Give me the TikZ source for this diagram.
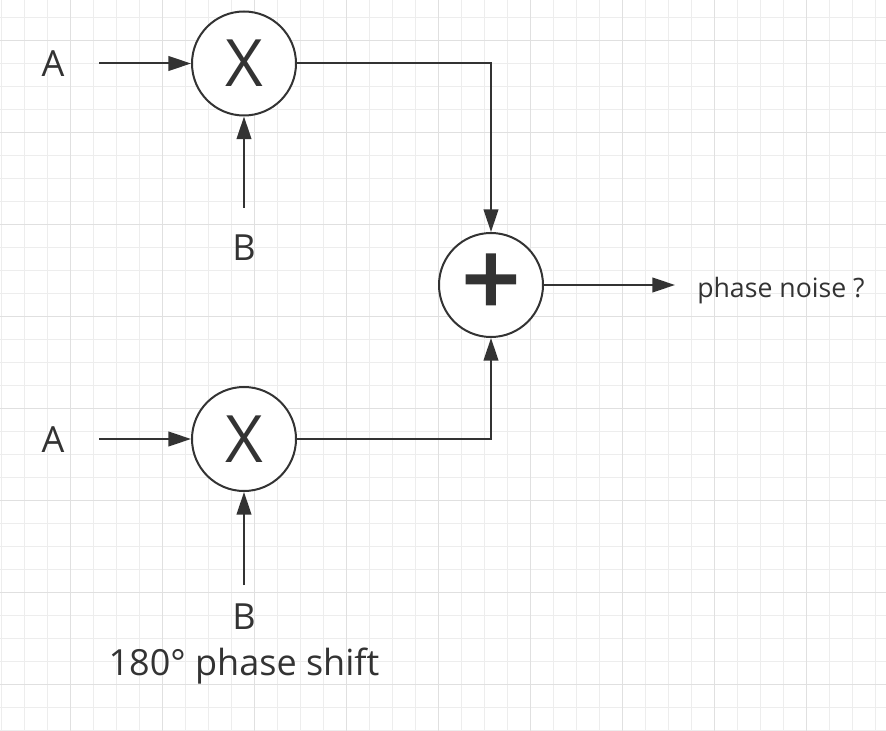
\documentclass[tikz,border=0pt]{standalone}
\usepackage{fontspec}
\setmainfont{Open Sans}
\newfontfamily\plusfont[FakeBold=3]{Open Sans}
\usepackage{tikz}
\usetikzlibrary{arrows.meta,positioning}
\definecolor{wireGray}{RGB}{51,51,51}
\definecolor{gridMinor}{RGB}{237,237,237}
\definecolor{gridMajor}{RGB}{224,224,224}

\begin{document}
\begin{tikzpicture}[x=0.75pt, y=-0.75pt,
    every node/.style={text=wireGray, inner sep=0pt},
    mixer/.style={draw=wireGray, line width=1.5pt, circle, minimum size=78pt, fill=white},
    lbl/.style={font=\fontsize{27}{32}\selectfont},
    wire/.style={draw=wireGray, line width=1.5pt, -{Triangle[length=17pt, width=11pt]}}
  ]
    \useasboundingbox (0,0) rectangle (886,731);
    \fill[white] (0,0) rectangle (886,731);
    % background grid
    \begin{scope}
      \clip (0,0) rectangle (886,731);
      \foreach \i in {0,...,38} \draw[gridMinor, line width=0.75pt] ({1.7+23*\i},0) -- ({1.7+23*\i},731);
      \foreach \j in {0,...,31} \draw[gridMinor, line width=0.75pt] (0,{17.3+23*\j}) -- (886,{17.3+23*\j});
      \foreach \i in {0,...,9} \draw[gridMajor, line width=0.75pt] ({70.7+92*\i},0) -- ({70.7+92*\i},731);
      \foreach \j in {0,...,7} \draw[gridMajor, line width=0.75pt] (0,{40.3+92*\j}) -- (886,{40.3+92*\j});
    \end{scope}
    % mixers and summer
    \node[mixer, font=\fontsize{49}{49}\selectfont] (mulA) at (244,63.5) {X};
    \node[mixer, font=\fontsize{49}{49}\selectfont] (mulB) at (244,439) {X};
    \node[mixer, font=\fontsize{76}{76}\plusfont] (sum) at (491,285) {+};
    % labels
    \node[lbl] (inA1) at (53,63.5) {A};
    \node[lbl] (inA2) at (53,440) {A};
    \node[lbl] (inB1) at (244,247.5) {B};
    \node[lbl] (inB2) at (244,617) {B};
    \node[lbl, anchor=base] (shift) at (244,675) {180° phase shift};
    \node[font=\fontsize{20}{24}\selectfont, anchor=base west] (out) at (697,297) {phase noise ?};
    % free ends of the wires
    \coordinate (srcA1) at (99,63.5);
    \coordinate (srcA2) at (99,439);
    \coordinate (srcB1) at (244,208);
    \coordinate (srcB2) at (244,585);
    \coordinate (outEnd) at (675,285);
    \draw[wire] (srcA1) -- (mulA);
    \draw[wire] (srcB1) -- (mulA);
    \draw[wire] (srcA2) -- (mulB);
    \draw[wire] (srcB2) -- (mulB);
    \draw[wire] (mulA) -| (sum);
    \draw[wire] (mulB) -| (sum);
    \draw[wire] (sum) -- (outEnd);
  \end{tikzpicture}
\end{document}
